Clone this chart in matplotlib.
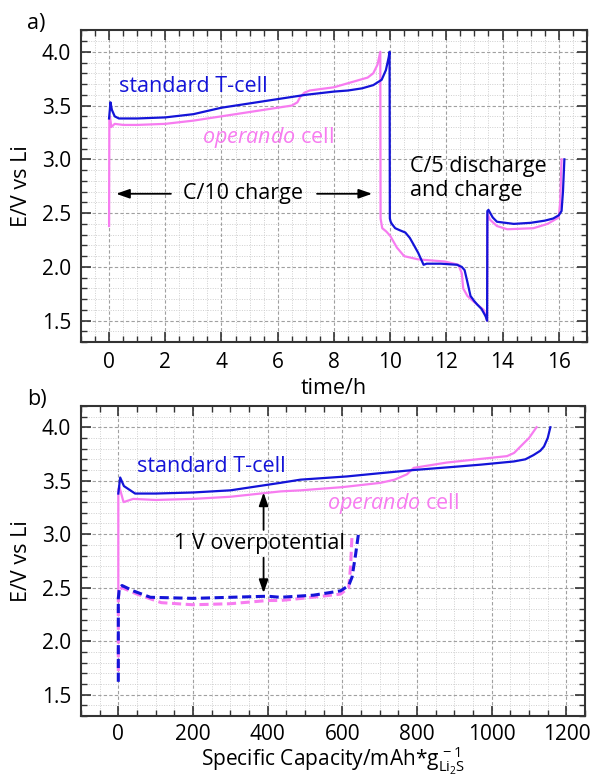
import numpy as np
import matplotlib
matplotlib.use("Agg")
import matplotlib.pyplot as plt
from matplotlib.ticker import MultipleLocator

plt.rcParams['font.family'] = ['Open Sans', 'DejaVu Sans']
plt.rcParams['mathtext.fontset'] = 'custom'
plt.rcParams['mathtext.rm'] = 'Open Sans'
plt.rcParams['mathtext.it'] = 'Open Sans:italic'

# panel a) potential vs time
t_std = [0.0, 0.05, 0.1, 0.2, 0.35, 0.6, 1, 2, 3, 4, 5, 6, 7, 8, 8.5, 9, 9.4, 9.7, 9.85,
         9.95, 9.98, 9.99, 10.02, 10.06, 10.18, 10.35, 10.54, 10.7, 10.83, 11.0, 11.19, 11.3,
         11.8, 12.38, 12.55, 12.65, 12.74, 12.86, 13.0, 13.1, 13.25, 13.4, 13.45, 13.46, 13.5,
         13.65, 13.8, 14.4, 15.0, 15.5, 15.8, 16.0, 16.1, 16.15, 16.2]
v_std = [3.38, 3.53, 3.46, 3.40, 3.38, 3.38, 3.38, 3.39, 3.42, 3.48, 3.52, 3.56, 3.60, 3.63,
         3.64, 3.66, 3.69, 3.74, 3.83, 3.95, 4.0, 2.45, 2.42, 2.40, 2.36, 2.34, 2.32, 2.27,
         2.21, 2.13, 2.02, 2.03, 2.03, 2.02, 2.00, 1.97, 1.87, 1.73, 1.68, 1.65, 1.61, 1.54,
         1.50, 2.52, 2.53, 2.46, 2.42, 2.40, 2.41, 2.43, 2.45, 2.48, 2.52, 2.70, 3.0]

t_op = [0, 0.01, 0.03, 0.08, 0.2, 0.5, 1, 2, 3, 4, 5, 6, 6.5, 6.7, 6.8, 6.95, 7.14, 8, 8.93,
        9.2, 9.4, 9.55, 9.65, 9.66, 9.72, 9.86, 10.0, 10.24, 10.5, 11.0, 11.95, 12.43, 12.55,
        12.6, 12.75, 12.96, 13.15, 13.33, 13.45, 13.46, 13.55, 13.8, 14.17, 15.1, 15.6, 16.0,
        16.05, 16.1]
v_op = [2.38, 3.38, 3.40, 3.30, 3.33, 3.32, 3.32, 3.33, 3.36, 3.40, 3.44, 3.48, 3.50, 3.53,
        3.58, 3.62, 3.64, 3.67, 3.74, 3.76, 3.80, 3.88, 4.0, 2.45, 2.36, 2.33, 2.29, 2.18,
        2.10, 2.07, 2.05, 2.02, 1.94, 1.80, 1.73, 1.68, 1.64, 1.60, 1.50, 2.50, 2.44, 2.38,
        2.35, 2.36, 2.40, 2.46, 2.60, 3.0]

# panel b) potential vs specific capacity
q_std_ch = [0, 5, 15, 45, 100, 200, 300, 434, 488, 612, 700, 791, 900, 970, 1059, 1090,
            1112, 1130, 1140, 1150, 1157]
v_std_ch = [3.38, 3.53, 3.45, 3.38, 3.38, 3.39, 3.41, 3.48, 3.51, 3.54, 3.57, 3.60, 3.63,
            3.65, 3.68, 3.70, 3.74, 3.78, 3.82, 3.90, 4.0]
q_op_ch = [0, 0, 3, 14, 40, 100, 200, 300, 434, 488, 600, 702, 740, 773, 791, 880, 960,
           1041, 1060, 1077, 1100, 1120]
v_op_ch = [2.38, 3.42, 3.44, 3.30, 3.33, 3.32, 3.33, 3.35, 3.40, 3.41, 3.44, 3.48, 3.51,
           3.56, 3.62, 3.67, 3.70, 3.73, 3.76, 3.82, 3.90, 4.0]
q_std_c5 = [0, 0, 3, 10, 40, 86, 200, 400, 434, 523, 595, 617, 626, 635, 643]
v_std_c5 = [1.62, 2.40, 2.50, 2.52, 2.47, 2.41, 2.40, 2.42, 2.41, 2.43, 2.47, 2.52, 2.60,
            2.80, 3.0]
q_op_c5 = [0, 0, 3, 10, 50, 115, 200, 300, 400, 434, 520, 595, 617, 622, 626]
v_op_c5 = [1.72, 2.40, 2.48, 2.50, 2.44, 2.36, 2.34, 2.35, 2.38, 2.38, 2.41, 2.44, 2.50,
           2.70, 3.0]

blue = '#1414d8'
pink = '#f77cf0'
fs = 15.5

fig = plt.figure(figsize=(5.91, 7.76), dpi=100)
ax1 = fig.add_axes([0.137, 0.559, 0.856, 0.402])
ax2 = fig.add_axes([0.137, 0.0773, 0.853, 0.3997])


def style(ax):
    ax.set_ylim(1.3, 4.2)
    ax.yaxis.set_major_locator(MultipleLocator(0.5))
    ax.yaxis.set_minor_locator(MultipleLocator(0.1))
    ax.grid(True, which='major', color='#a0a0a0', linestyle=(0, (3, 2)), linewidth=0.8)
    ax.grid(True, which='minor', color='#cfcfcf', linestyle=(0, (1, 1.5)), linewidth=0.7)
    ax.set_axisbelow(True)
    ax.tick_params(which='both', direction='in', top=True, right=True, labelsize=15,
                   color='#333333')
    ax.tick_params(which='major', length=7, width=1.2, pad=7)
    ax.tick_params(which='minor', length=4, width=1.0)
    for s in ax.spines.values():
        s.set_linewidth(1.5)
        s.set_color('#333333')
    ax.set_yticks([1.5, 2.0, 2.5, 3.0, 3.5, 4.0])
    ax.set_yticklabels(['1.5', '2.0', '2.5', '3.0', '3.5', '4.0'])
    ax.set_ylabel('E/V vs Li', fontsize=fs)
    ax.yaxis.set_label_coords(-0.097, 0.5)


style(ax1)
ax1.set_xlim(-1, 17)
ax1.xaxis.set_major_locator(MultipleLocator(2))
ax1.xaxis.set_minor_locator(MultipleLocator(0.5))
ax1.plot(t_op, v_op, color=pink, lw=1.6)
ax1.plot(t_std, v_std, color=blue, lw=1.6)
ax1.set_xlabel('time/h', fontsize=fs, va='baseline')
ax1.xaxis.set_label_coords(0.5, -0.166)

ax1.text(0.36, 3.68, 'standard T-cell', color=blue, fontsize=fs, va='center')
ax1.text(3.3, 3.2, r'$\it{operando}$ cell', color=pink, fontsize=fs, va='center')
ax1.text(4.75, 2.68, 'C/10 charge', fontsize=fs, ha='center', va='center')
arrow = dict(arrowstyle='-|>,head_length=0.8,head_width=0.28', color='black',
             lw=1.3, shrinkA=0, shrinkB=0)
ax1.annotate('', xy=(0.25, 2.68), xytext=(2.2, 2.68), arrowprops=arrow)
ax1.annotate('', xy=(9.36, 2.68), xytext=(7.4, 2.68), arrowprops=arrow)
ax1.text(10.7, 2.82, 'C/5 discharge\nand charge', fontsize=fs, va='center', linespacing=1.2)

style(ax2)
ax2.set_xlim(-100, 1250)
ax2.xaxis.set_major_locator(MultipleLocator(200))
ax2.xaxis.set_minor_locator(MultipleLocator(50))
ax2.tick_params(axis='x', which='major', pad=6)
ax2.plot(q_op_ch, v_op_ch, color=pink, lw=1.6)
ax2.plot(q_std_ch, v_std_ch, color=blue, lw=1.6)
ax2.plot(q_op_c5, v_op_c5, color=pink, lw=2.2, linestyle=(0, (3, 1.5)))
ax2.plot(q_std_c5, v_std_c5, color=blue, lw=2.2, linestyle=(0, (3, 1.5)))
ax2.set_xlabel(r'Specific Capacity/mAh*g$^{\,-1}_{\mathrm{Li_2S}}$', fontsize=15,
               va='baseline')
ax2.xaxis.set_label_coords(0.5, -0.164)

ax2.text(51, 3.63, 'standard T-cell', color=blue, fontsize=fs, va='center')
ax2.text(560, 3.29, r'$\it{operando}$ cell', color=pink, fontsize=fs, va='center')
ax2.text(378, 2.91, '1 V overpotential', fontsize=fs, ha='center', va='center')
ax2.annotate('', xy=(389, 3.39), xytext=(389, 3.04), arrowprops=arrow)
ax2.annotate('', xy=(389, 2.45), xytext=(389, 2.78), arrowprops=arrow)

fig.text(27 / 591, 1 - 24 / 776, 'a)', fontsize=fs, va='center')
fig.text(27 / 591, 1 - 400 / 776, 'b)', fontsize=fs, va='center')

fig.savefig('out.png', dpi=100)
